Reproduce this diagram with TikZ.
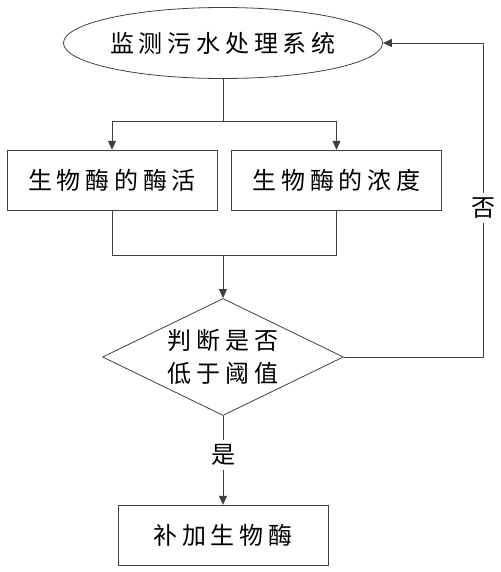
\documentclass[tikz,border=0pt]{standalone}
\usepackage{fontspec}
\newfontfamily\cjk{Noto Sans CJK SC}[LetterSpace=20]
\usepackage{tikz}
\usetikzlibrary{arrows.meta,shapes.geometric}

\begin{document}
\begin{tikzpicture}[x=1pt,y=-1pt,
    every node/.style={font=\cjk\fontsize{24}{33}\selectfont},
    box/.style={draw=black!75, rectangle, minimum width=210pt, minimum height=60pt, inner sep=0pt},
    flow/.style={draw=black!75, line width=0.8pt},
    arr/.style={flow, -{Triangle[length=9pt,width=8pt]}}]
  \useasboundingbox (0,0) rectangle (500,572);
  % Monitoring
  \node[ellipse, draw=black!75, line width=0.8pt, minimum width=266pt, minimum height=71pt, inner sep=0pt] (mon) at (223,43) {监测污水处理系统};
  % Two measured quantities
  \node[box] (act) at (112,180) {生物酶的酶活};
  \node[box] (con) at (336.5,180) {生物酶的浓度};
  \coordinate (split) at (223,121);
  \draw[flow] (mon.south) -- (split);
  \draw[arr] (split) -| (act.north);
  \draw[arr] (split) -| (con.north);
  % Threshold check
  \node[diamond, draw=black!75, line width=0.8pt, align=center, inner sep=0pt, aspect=2, minimum width=241pt, minimum height=117pt] (judge) at (223,357) {判断是否\\低于阈值};
  \coordinate (merge) at (223,255);
  \draw[flow] (act.south) |- (merge);
  \draw[flow] (con.south) |- (merge);
  \draw[arr] (merge) -- (judge.north);
  % Yes branch
  \node[box] (add) at (223,535) {补加生物酶};
  \node[inner sep=4pt] (yes) at (223,455) {是};
  \draw[flow] (judge.south) -- (yes);
  \draw[arr] (yes) -- (add.north);
  % No branch, back to monitoring
  \node[inner sep=4pt] (no) at (483,208) {否};
  \draw[flow] (judge.east) -| (no);
  \draw[arr] (no) |- (mon.east);
\end{tikzpicture}
\end{document}
